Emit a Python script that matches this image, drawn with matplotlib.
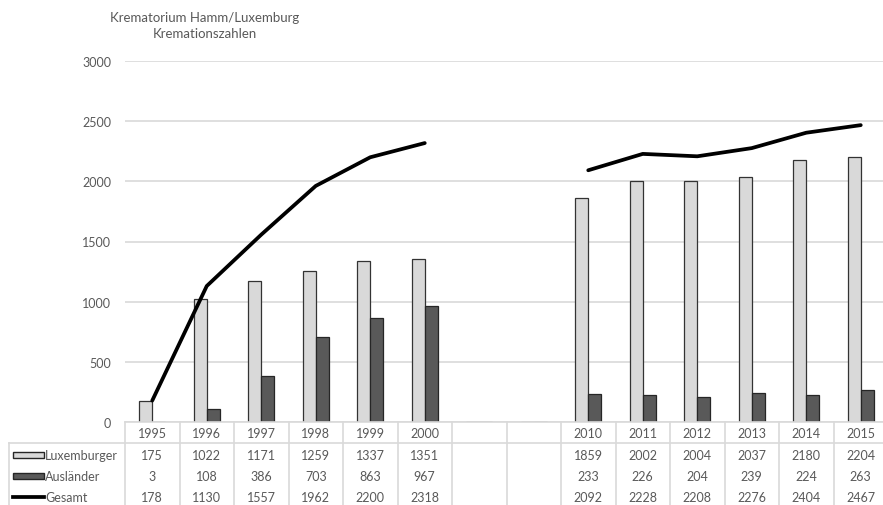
import numpy as np
import matplotlib.pyplot as plt
from matplotlib.lines import Line2D
from matplotlib.patches import Rectangle

plt.rcParams['font.family'] = ['Lato', 'DejaVu Sans']

# datos
jahre = ['1995', '1996', '1997', '1998', '1999', '2000', '', '',
         '2010', '2011', '2012', '2013', '2014', '2015']
luxemburger = [175, 1022, 1171, 1259, 1337, 1351, None, None,
               1859, 2002, 2004, 2037, 2180, 2204]
auslaender = [3, 108, 386, 703, 863, 967, None, None,
              233, 226, 204, 239, 224, 263]
gesamt = [178, 1130, 1557, 1962, 2200, 2318, None, None,
          2092, 2228, 2208, 2276, 2404, 2467]
serien = ['Luxemburger', 'Ausländer', 'Gesamt']
y_ticks = [0, 500, 1000, 1500, 2000, 2500, 3000]

W, H = 883, 506
fig = plt.figure(figsize=(W / 100, H / 100), dpi=100)

# area del grafico en pixeles
x0, x1 = 125, 888
y_top, y_base = 62, 423
ax = fig.add_axes([x0 / W, 1 - y_base / H, (x1 - x0) / W, (y_base - y_top) / H])

n = len(jahre)
x = np.arange(n)
lux = np.array([np.nan if v is None else v for v in luxemburger], dtype=float)
aus = np.array([np.nan if v is None else v for v in auslaender], dtype=float)
ges = np.array([np.nan if v is None else v for v in gesamt], dtype=float)

bw = 0.24
c_lux = '#d9d9d9'
c_aus = '#595959'
txt_c = '#595959'
ax.bar(x - bw / 2, np.nan_to_num(lux), bw, color=c_lux, edgecolor='#333333', linewidth=0.9, zorder=2)
ax.bar(x + bw / 2, np.nan_to_num(aus), bw, color=c_aus, edgecolor='#262626', linewidth=0.9, zorder=2)
ax.plot(x, ges, color='black', linewidth=2.7, solid_capstyle='round', solid_joinstyle='round', zorder=3)

ax.set_xlim(-0.5, n - 0.5)
ax.set_ylim(0, 3000)
ax.set_yticks(y_ticks)
ax.set_xticks([])
ax.grid(axis='y', color='#d9d9d9', linewidth=1.2, zorder=0)
ax.set_axisbelow(True)
for s in ['top', 'right', 'left']:
    ax.spines[s].set_visible(False)
ax.spines['bottom'].set_color('#d9d9d9')
ax.spines['bottom'].set_linewidth(1.2)
ax.tick_params(axis='y', length=0, pad=10, labelsize=9, labelcolor=txt_c)

# titulo
fig.text(205 / W, 1 - 26 / H, 'Krematorium Hamm/Luxemburg\nKremationszahlen',
         ha='center', va='center', fontsize=9.5, color=txt_c, linespacing=1.35)

# tabla de datos
cw = (x1 - x0) / n
grid_c = '#d9d9d9'
row_line = 444
rows_y = [456, 477, 498]
year_y = 434


def fx(px):
    return px / W


def fy(py):
    return 1 - py / H


# lineas verticales
for k in range(n + 1):
    xx = x0 + k * cw
    fig.add_artist(Line2D([fx(xx), fx(xx)], [fy(y_base), fy(H)], color=grid_c, lw=1.2))
fig.add_artist(Line2D([fx(9), fx(9)], [fy(row_line), fy(H)], color=grid_c, lw=1.2))
fig.add_artist(Line2D([fx(9), fx(x1)], [fy(row_line), fy(row_line)], color=grid_c, lw=1.2))

for k, j in enumerate(jahre):
    cx = x0 + (k + 0.5) * cw
    fig.text(fx(cx), fy(year_y), j, ha='center', va='center', fontsize=9, color=txt_c)
    for r, vals in enumerate([luxemburger, auslaender, gesamt]):
        if vals[k] is not None:
            fig.text(fx(cx), fy(rows_y[r]), str(vals[k]), ha='center', va='center',
                     fontsize=9, color=txt_c)

# leyenda dentro de la tabla
for r, nombre in enumerate(serien):
    yy = rows_y[r]
    if r < 2:
        col = c_lux if r == 0 else c_aus
        fig.add_artist(Rectangle((fx(13), fy(yy + 3)), fx(31), 6 / H,
                                 facecolor=col, edgecolor='#262626', lw=1.0))
    else:
        fig.add_artist(Line2D([fx(13), fx(44)], [fy(yy), fy(yy)], color='black', lw=2.7))
    fig.text(fx(45), fy(yy), nombre, ha='left', va='center', fontsize=9, color=txt_c)

fig.savefig('out.png', dpi=100)
